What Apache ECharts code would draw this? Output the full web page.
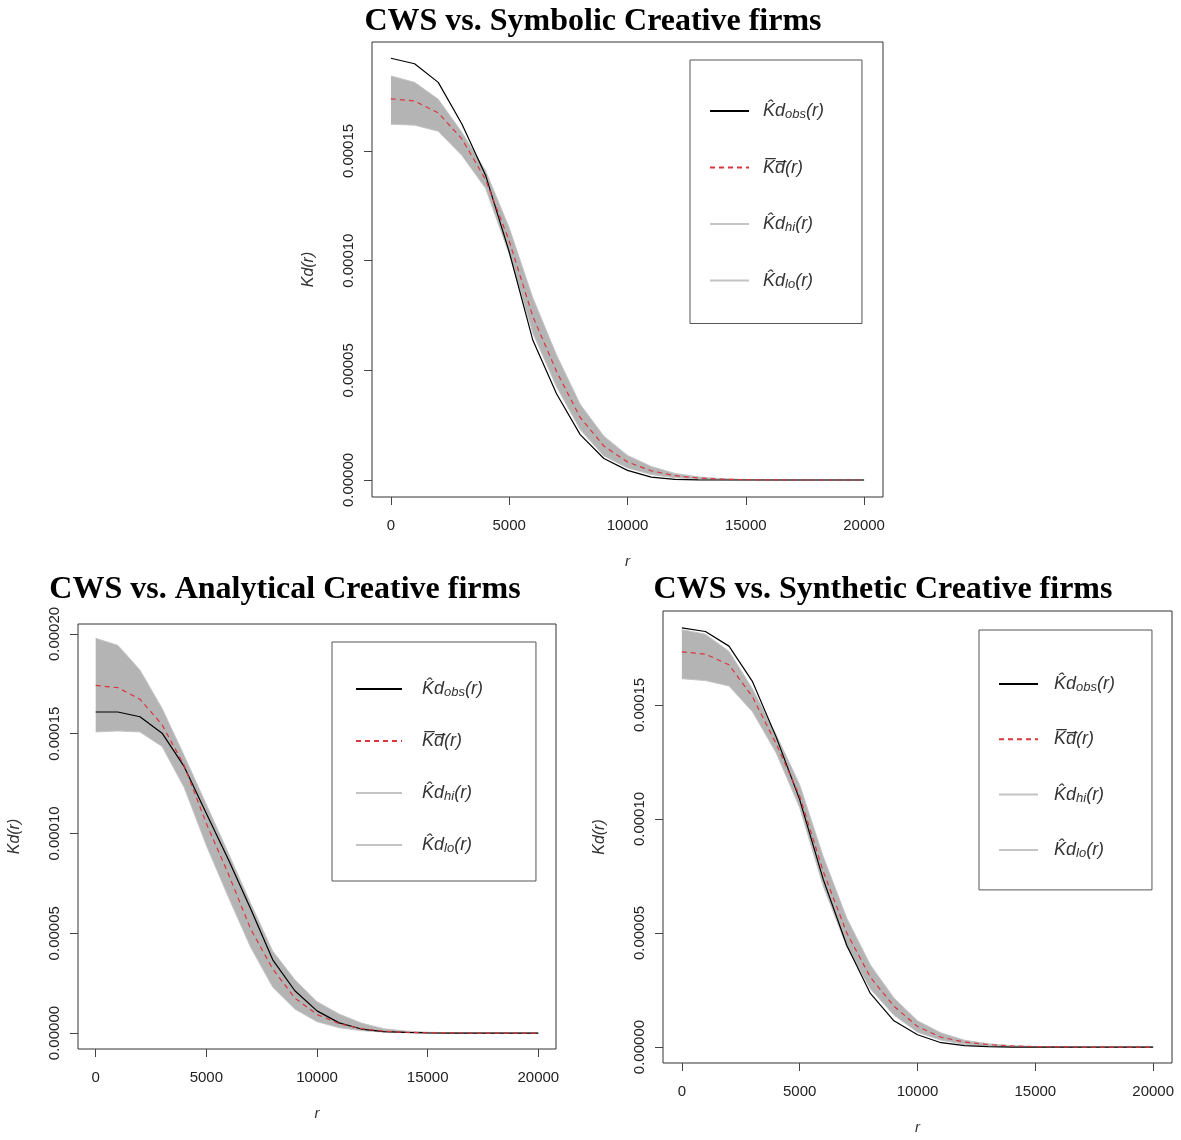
<!DOCTYPE html>
<html>
<head>
<meta charset="utf-8">
<script src="https://cdn.jsdelivr.net/npm/echarts@6/dist/echarts.min.js"></script>
<style>
html, body { margin: 0; padding: 0; background: #fff; }
#main { width: 1181px; height: 1140px; }
</style>
</head>
<body>
<div id="main"></div>
<script>
// r distances (m)
var rValues = [0, 1000, 2000, 3000, 4000, 5000, 6000, 7000, 8000, 9000, 10000,
               11000, 12000, 13000, 14000, 15000, 16000, 17000, 18000, 19000, 20000];
var xTicks = [0, 5000, 10000, 15000, 20000];

// Kd values, in units of 1e-5
var symObs  = [19.23, 18.98, 18.13, 16.23, 13.9, 10.4, 6.37, 3.93, 2.07, 0.98, 0.44, 0.13, 0.03, 0.01, 0, 0, 0, 0, 0, 0, 0];
var symMean = [17.38, 17.28, 16.74, 15.55, 13.7, 10.9, 7.45, 4.95, 2.85, 1.55, 0.82, 0.42, 0.2, 0.09, 0.04, 0.015, 0.005, 0, 0, 0, 0];
var symHi   = [18.42, 18.13, 17.36, 15.85, 14.1, 11.5, 8.3, 5.7, 3.45, 2.0, 1.12, 0.62, 0.3, 0.14, 0.06, 0.025, 0.01, 0, 0, 0, 0];
var symLo   = [16.22, 16.18, 15.9, 14.8, 13.3, 10.3, 6.7, 4.25, 2.3, 1.1, 0.55, 0.25, 0.1, 0.04, 0.015, 0.005, 0, 0, 0, 0, 0];

var anaObs  = [16.09, 16.09, 15.85, 15.03, 13.35, 11.0, 8.69, 6.23, 3.67, 2.12, 1.11, 0.51, 0.2, 0.07, 0.03, 0.01, 0, 0, 0, 0, 0];
var anaMean = [17.42, 17.31, 16.73, 15.45, 13.4, 10.5, 7.96, 5.22, 3.21, 1.75, 0.93, 0.47, 0.22, 0.09, 0.04, 0.015, 0.005, 0, 0, 0, 0];
var anaHi   = [19.78, 19.43, 18.19, 16.27, 13.9, 11.45, 9.0, 6.5, 4.1, 2.67, 1.57, 0.95, 0.5, 0.22, 0.1, 0.04, 0.015, 0, 0, 0, 0];
var anaLo   = [15.09, 15.14, 15.09, 14.36, 12.3, 9.4, 6.8, 4.3, 2.3, 1.2, 0.57, 0.27, 0.12, 0.05, 0.02, 0.005, 0, 0, 0, 0, 0];

var synObs  = [18.38, 18.22, 17.58, 16.02, 13.6, 10.85, 7.35, 4.45, 2.35, 1.15, 0.54, 0.19, 0.06, 0.02, 0, 0, 0, 0, 0, 0, 0];
var synMean = [17.33, 17.23, 16.76, 15.35, 13.3, 11.0, 7.7, 5.0, 3.06, 1.79, 0.9, 0.43, 0.22, 0.11, 0.05, 0.02, 0.005, 0, 0, 0, 0];
var synHi   = [18.3, 18.1, 17.35, 15.7, 13.7, 11.5, 8.35, 5.65, 3.6, 2.15, 1.15, 0.62, 0.3, 0.14, 0.06, 0.025, 0.01, 0, 0, 0, 0];
var synLo   = [16.15, 16.07, 15.83, 14.7, 12.9, 10.5, 7.05, 4.4, 2.55, 1.4, 0.65, 0.3, 0.12, 0.05, 0.02, 0.01, 0, 0, 0, 0, 0];

var yTicksSym = [0, 5, 10, 15];
var yTicksAna = [0, 5, 10, 15, 20];
var yTicksSyn = [0, 5, 10, 15];

var legendNames = ['obs', 'mean', 'hi', 'lo'];

var panels = [
    { title: 'CWS vs. Symbolic Creative firms', tx: 593, ty: 22,
      grid: { left: 372, top: 42, width: 511, height: 455 }, yMin: -0.775, yMax: 19.97, yTicks: yTicksSym,
      legend: { left: 690, top: 60, padding: [41, 38, 33, 19], itemWidth: 39, itemGap: 36.5, textShift: 9 },
      obs: symObs, mean: symMean, hi: symHi, lo: symLo },
    { title: 'CWS vs. Analytical Creative firms', tx: 285, ty: 590,
      grid: { left: 78, top: 624, width: 478, height: 425 }, yMin: -0.8, yMax: 20.5, yTicks: yTicksAna,
      legend: { left: 332, top: 642, padding: [37, 53, 26, 23], itemWidth: 46, itemGap: 32, textShift: 15 },
      obs: anaObs, mean: anaMean, hi: anaHi, lo: anaLo },
    { title: 'CWS vs. Synthetic Creative firms', tx: 883, ty: 590,
      grid: { left: 663, top: 611, width: 509, height: 452 }, yMin: -0.7, yMax: 19.12, yTicks: yTicksSyn,
      legend: { left: 979, top: 630, padding: [44, 37, 30, 19], itemWidth: 39, itemGap: 35.3, textShift: 11 },
      obs: synObs, mean: synMean, hi: synHi, lo: synLo }
];

function pairs(vals) {
    return rValues.map(function (r, i) { return [r, vals[i]]; });
}

var legendText = {
    obs:  '{g| }{k|K\u0302d}{s|obs}{k|(r)}',
    mean: '{g| }{k|K\u0305d\u0305}{k|(r)}',
    hi:   '{g| }{k|K\u0302d}{s|hi}{k|(r)}',
    lo:   '{g| }{k|K\u0302d}{s|lo}{k|(r)}'
};

var option = {
    animation: false,
    backgroundColor: '#fff',
    grid: [], xAxis: [], yAxis: [], legend: [], series: [], graphic: []
};

panels.forEach(function (p, i) {
    option.grid.push({
        left: p.grid.left, top: p.grid.top, width: p.grid.width, height: p.grid.height,
        show: true, borderColor: '#333', borderWidth: 1, backgroundColor: 'transparent'
    });
    option.xAxis.push({
        type: 'value', gridIndex: i, min: -800, max: 20800,
        name: 'r', nameLocation: 'middle', nameGap: 57,
        nameTextStyle: { fontStyle: 'italic', fontSize: 15, color: '#333', fontFamily: 'Liberation Sans' },
        axisLine: { show: false, onZero: false }, splitLine: { show: false },
        axisTick: { show: true, inside: false, length: 8, customValues: xTicks, lineStyle: { color: '#444' } },
        axisLabel: { customValues: xTicks, margin: 21, fontSize: 15, color: '#222', fontFamily: 'Liberation Sans',
                     formatter: function (v) { return String(v); } }
    });
    option.yAxis.push({
        type: 'value', gridIndex: i, min: p.yMin, max: p.yMax,
        name: 'Kd(r)', nameLocation: 'middle', nameGap: 55,
        nameTextStyle: { fontStyle: 'italic', fontSize: 16, color: '#333', fontFamily: 'Liberation Sans' },
        axisLine: { show: false, onZero: false }, splitLine: { show: false },
        axisTick: { show: true, inside: false, length: 8, customValues: p.yTicks, lineStyle: { color: '#444' } },
        axisLabel: { customValues: p.yTicks, rotate: 90, margin: 16, fontSize: 15, color: '#222',
                     fontFamily: 'Liberation Sans',
                     formatter: function (v) { return (v / 1e5).toFixed(5); } }
    });
    option.legend.push({
        data: legendNames, orient: 'vertical', selectedMode: false,
        left: p.legend.left, top: p.legend.top, padding: p.legend.padding,
        itemWidth: p.legend.itemWidth, itemHeight: 14, itemGap: p.legend.itemGap,
        borderColor: '#555', borderWidth: 1, borderRadius: 0,
        itemStyle: { opacity: 0 },
        formatter: function (name) { return legendText[name]; },
        textStyle: {
            lineHeight: 20,
            rich: {
                g: { width: p.legend.textShift, fontSize: 18, lineHeight: 20 },
                k: { fontSize: 18, fontStyle: 'italic', color: '#333', fontFamily: 'Liberation Sans', lineHeight: 20 },
                s: { fontSize: 13, fontStyle: 'italic', color: '#333', fontFamily: 'Liberation Sans', lineHeight: 14, padding: [7, 0, 0, 0] }
            }
        }
    });
    // grey envelope between lo and hi
    option.series.push({
        type: 'custom', name: 'band' + i, xAxisIndex: i, yAxisIndex: i, silent: true, z: 1,
        data: rValues.map(function (r, j) { return [r, p.lo[j], p.hi[j]]; }),
        encode: { x: 0, y: [1, 2] },
        renderItem: function (params, api) {
            if (params.dataIndex !== 0) return;
            var pts = [];
            for (var j = 0; j < rValues.length; j++) pts.push(api.coord([rValues[j], p.hi[j]]));
            for (var k = rValues.length - 1; k >= 0; k--) pts.push(api.coord([rValues[k], p.lo[k]]));
            return { type: 'polygon', shape: { points: pts }, style: { fill: '#b4b4b4' } };
        }
    });
    option.series.push(
        { type: 'line', name: 'hi', xAxisIndex: i, yAxisIndex: i, data: pairs(p.hi), symbol: 'none', z: 2,
          color: '#c4c4c4', lineStyle: { color: '#c4c4c4', width: 1 } },
        { type: 'line', name: 'lo', xAxisIndex: i, yAxisIndex: i, data: pairs(p.lo), symbol: 'none', z: 2,
          color: '#c4c4c4', lineStyle: { color: '#c4c4c4', width: 1 } },
        { type: 'line', name: 'obs', xAxisIndex: i, yAxisIndex: i, data: pairs(p.obs), symbol: 'none', z: 3,
          color: '#000', lineStyle: { color: '#000', width: 1.2 } },
        { type: 'line', name: 'mean', xAxisIndex: i, yAxisIndex: i, data: pairs(p.mean), symbol: 'none', z: 4,
          color: '#d9363e', lineStyle: { color: '#d9363e', width: 1.2, type: [5, 4] } }
    );
    option.graphic.push({
        type: 'text', x: p.tx, y: p.ty,
        style: { text: p.title, font: 'bold 32px "Liberation Serif"', fill: '#000',
                 textAlign: 'center', textVerticalAlign: 'middle' }
    });
});

var chart = echarts.init(document.getElementById('main'));
chart.setOption(option);
</script>
</body>
</html>
